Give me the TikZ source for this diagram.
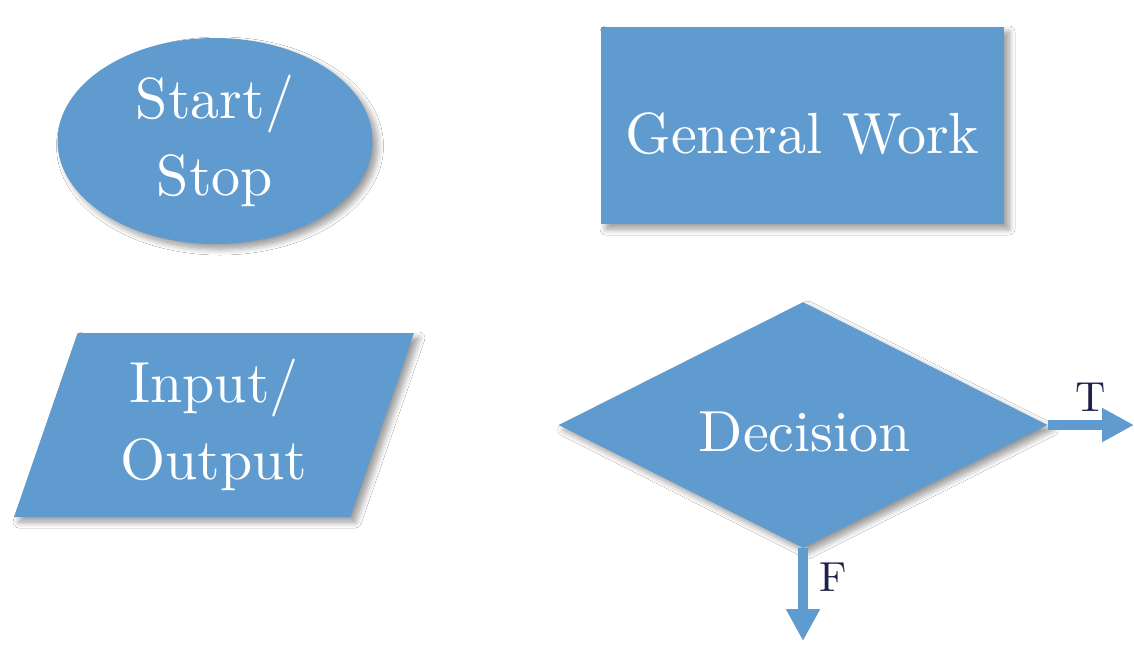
\documentclass[tikz,border=0pt]{standalone}
\usepackage{fontspec}
\setmainfont{lmroman10-regular}[Extension=.otf]
\usetikzlibrary{shapes.geometric,arrows.meta,shadows.blur}
\definecolor{boxblue}{HTML}{5F9BCF}
\definecolor{labnavy}{HTML}{1F2148}
\begin{document}
\begin{tikzpicture}[x=0.5pt,y=-0.5pt,
  shp/.style={fill=boxblue,draw=none,text=white,align=center,
    font=\fontsize{29}{38.5}\selectfont,inner sep=0pt,
    blur shadow={shadow xshift=2.5pt,shadow yshift=-2.5pt,shadow blur radius=3pt,shadow blur steps=8,shadow opacity=40}},
  lowtext/.style={text height=28pt,text depth=0pt},
  shptext/.style={text=white,align=center,font=\fontsize{29}{38.5}\selectfont,inner sep=0pt},
  flowarrow/.style={draw=boxblue,line width=5pt,-{Triangle[width=16pt,length=16pt]}},
  lab/.style={text=labnavy,font=\fontsize{21}{24}\selectfont,inner sep=0pt}]
\fill[white] (0,0) rectangle (1134,644);
\useasboundingbox (0,0) rectangle (1134,644);
\node[shp,ellipse,minimum width=157.5pt,minimum height=103pt] (start) at (215,141) {Start/\\Stop};
\node[shp,rectangle,lowtext,minimum width=201.5pt,minimum height=98.5pt] (work) at (802.5,125.5) {General Work};
\node[shp,trapezium,trapezium stretches=true,trapezium left angle=71.7,trapezium right angle=108.3,
  minimum width=200pt,minimum height=92pt] (io) at (214,425) {Input/\\Output};
\node[shp,diamond,minimum width=244.5pt,minimum height=123pt] (dec) at (803,425) {};
\node[shptext,anchor=base] (dect) at (805,451) {Decision};
\coordinate (tend) at (1134,425);
\coordinate (fend) at (803,641);
\draw[flowarrow] (dec.east) -- (tend);
\draw[flowarrow] (dec.south) -- (fend);
\node[lab] (tl) at (1091,397) {T};
\node[lab] (fl) at (833,577) {F};
\end{tikzpicture}
\end{document}
